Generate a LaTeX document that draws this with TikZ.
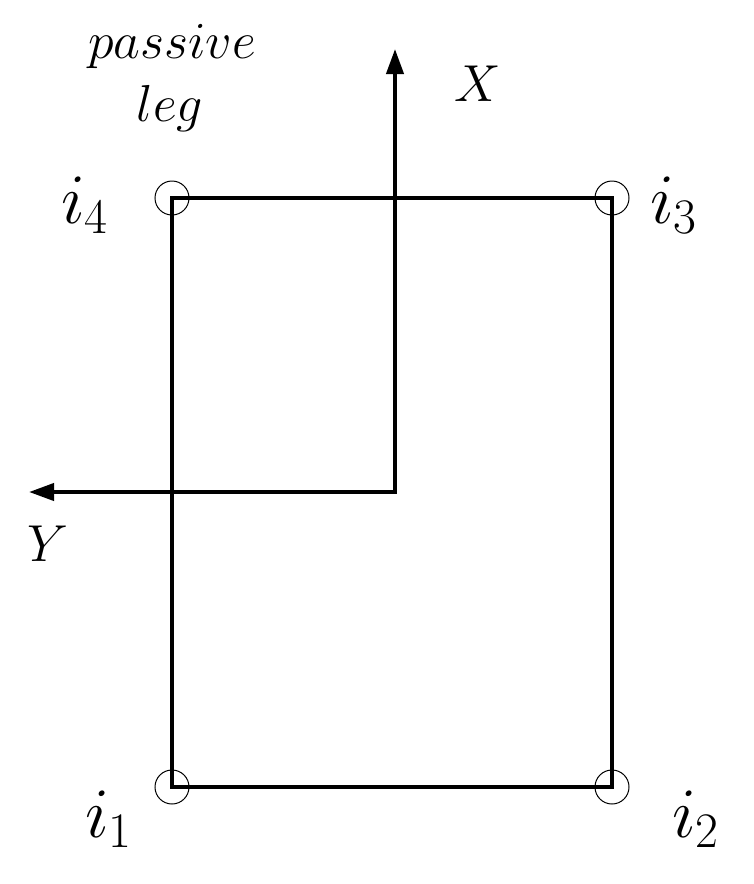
\RequirePackage{fix-cm}
\documentclass[tikz,border=0pt]{standalone}
\usetikzlibrary{arrows.meta}
\begin{document}
\begin{tikzpicture}[x=1pt,y=-1pt,
  frame/.style={line width=4pt},
  axisline/.style={line width=4pt,line join=miter,
    {Triangle[length=25pt,width=17pt]}-{Triangle[length=25pt,width=17pt]}},
  joint/.style={circle,draw,line width=1pt,minimum size=34pt,inner sep=0pt},
  biglab/.style={font=\fontsize{71}{85}\selectfont,inner sep=0pt,anchor=base west},
  smalllab/.style={font=\fontsize{52}{62}\selectfont,inner sep=0pt}]
\useasboundingbox (0,0) rectangle (753,884);
% corners
\coordinate (c1) at (172,787);
\coordinate (c2) at (612,787);
\coordinate (c3) at (612,198);
\coordinate (c4) at (172,198);
% joint circles
\node[joint] (j1) at (c1) {};
\node[joint] (j2) at (c2) {};
\node[joint] (j3) at (c3) {};
\node[joint] (j4) at (c4) {};
% frame
\draw[frame] (c1) -- (c2) -- (c3) -- (c4) -- cycle;
% axes
\coordinate (o) at (395,492);
\coordinate (xt) at (395,49);
\coordinate (yt) at (29,492);
\draw[axisline] (xt) -- (o) -- (yt);
% labels
\node[smalllab,anchor=base west] (lx) at (454,101) {$X$};
\node[smalllab,anchor=base west] (ly) at (27,561) {$Y$};
\node[smalllab,anchor=base] (lp) at (172,58) {$passive$};
\node[smalllab,anchor=base] (ll) at (170,121) {$leg$};
\node[biglab] (l4) at (61,223) {$i_4$};
\node[biglab] (l3) at (650,223) {$i_3$};
\node[biglab] (l1) at (85,837) {$i_1$};
\node[biglab] (l2) at (672,837) {$i_2$};
\end{tikzpicture}
\end{document}
